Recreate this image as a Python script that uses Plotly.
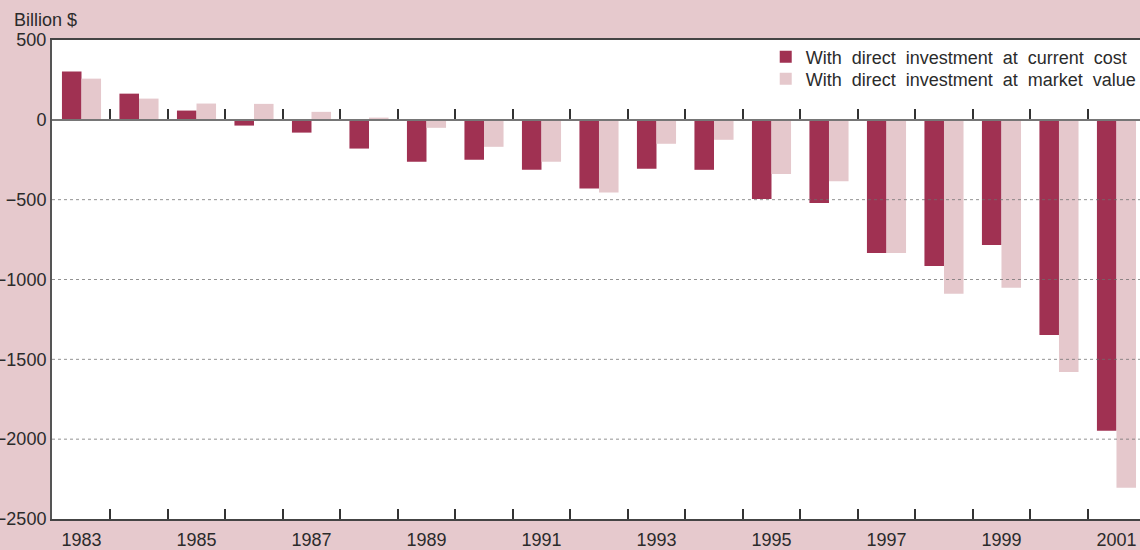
import plotly.graph_objects as go

years = list(range(1983, 2002))
current_cost = [302, 164, 58, -36, -80, -180, -263, -250, -313, -430, -307, -313,
                -496, -521, -834, -915, -784, -1348, -1948]
market_value = [258, 133, 102, 100, 50, 14, -50, -169, -263, -455, -150, -125,
                -340, -384, -834, -1090, -1052, -1579, -2304]
year_labels = [y for y in years if (y - 1983) % 2 == 0]
y_ticks = [500, 0, -500, -1000, -1500, -2000, -2500]
series_names = ["With direct investment at current cost",
                "With direct investment at market value"]

DARK = "#a03152"
LIGHT = "#e5c8cc"
BG = "#e6c9cd"
TXT = "#2b2b2b"
FONT = "Liberation Sans, Arial, sans-serif"


def spaced(s):
    return s.replace(" ", "\u00a0 ")


boundaries = [y + 0.5 for y in years[:-1]]
x_range = [years[0] - 0.513, years[-1] + 0.409]

fig = go.Figure()
fig.add_trace(go.Bar(x=years, y=current_cost, name=spaced(series_names[0]),
                     marker=dict(color=DARK, line=dict(width=0)), legend="legend"))
fig.add_trace(go.Bar(x=years, y=market_value, name=spaced(series_names[1]),
                     marker=dict(color=LIGHT, line=dict(width=0)), legend="legend2"))
# invisible helper trace so the zero-line axis is drawn
fig.add_trace(go.Scatter(x=[years[0]], y=[0], xaxis="x2", mode="markers",
                         marker=dict(opacity=0), showlegend=False, hoverinfo="skip"))

y_min, y_max = min(y_ticks), max(y_ticks)
zero_pos = (0 - y_min) / (y_max - y_min)

leg_common = dict(xanchor="left", x=0.656, yanchor="middle",
                  bgcolor="rgba(0,0,0,0)", font=dict(size=18, color=TXT))

fig.update_layout(
    width=1140, height=550,
    margin=dict(l=52, r=0, t=40, b=31, autoexpand=False),
    paper_bgcolor=BG, plot_bgcolor="white",
    font=dict(family=FONT, size=18, color=TXT),
    barmode="group", bargap=0.32, bargroupgap=0,
    showlegend=True,
    legend=dict(y=0.9645, **leg_common),
    legend2=dict(y=0.9186, **leg_common),
    xaxis=dict(range=x_range, tickmode="array", tickvals=year_labels,
               ticktext=[str(y) for y in year_labels], ticks="",
               ticklabelstandoff=3,
               showgrid=False, zeroline=False, showline=True, linecolor="#444",
               linewidth=2, mirror=True, automargin=False,
               tickfont=dict(size=18, color=TXT),
               minor=dict(tickmode="array", tickvals=boundaries, ticks="inside",
                          ticklen=10, tickwidth=1.5, tickcolor="#333", showgrid=False)),
    xaxis2=dict(range=x_range, overlaying="x", anchor="free", position=zero_pos,
                side="bottom", tickmode="array", tickvals=boundaries,
                ticks="inside", ticklen=10, tickwidth=1.5, tickcolor="#333",
                showticklabels=False, showgrid=False, zeroline=False,
                showline=True, linecolor="#767676", linewidth=2, automargin=False),
    yaxis=dict(range=[y_min, y_max], tickmode="array", tickvals=y_ticks,
               ticks="", showgrid=False, zeroline=False, showline=True,
               linecolor="#555", linewidth=2, automargin=False,
               tickfont=dict(size=18, color=TXT)),
    annotations=[dict(text="Billion $", xref="paper", yref="paper",
                      x=-40 / 1088, y=1.0, xanchor="left", yanchor="bottom",
                      yshift=8, showarrow=False, font=dict(size=18, color=TXT))],
    shapes=[dict(type="line", xref="paper", yref="y", x0=0, x1=1, y0=v, y1=v,
                 layer="above", line=dict(color="rgba(110,110,110,0.75)", width=1, dash="dot"))
            for v in y_ticks if y_min < v < y_max and v != 0],
)

fig.write_html("out.html", config={"displayModeBar": False},
               post_script="document.body.style.margin='0';")
